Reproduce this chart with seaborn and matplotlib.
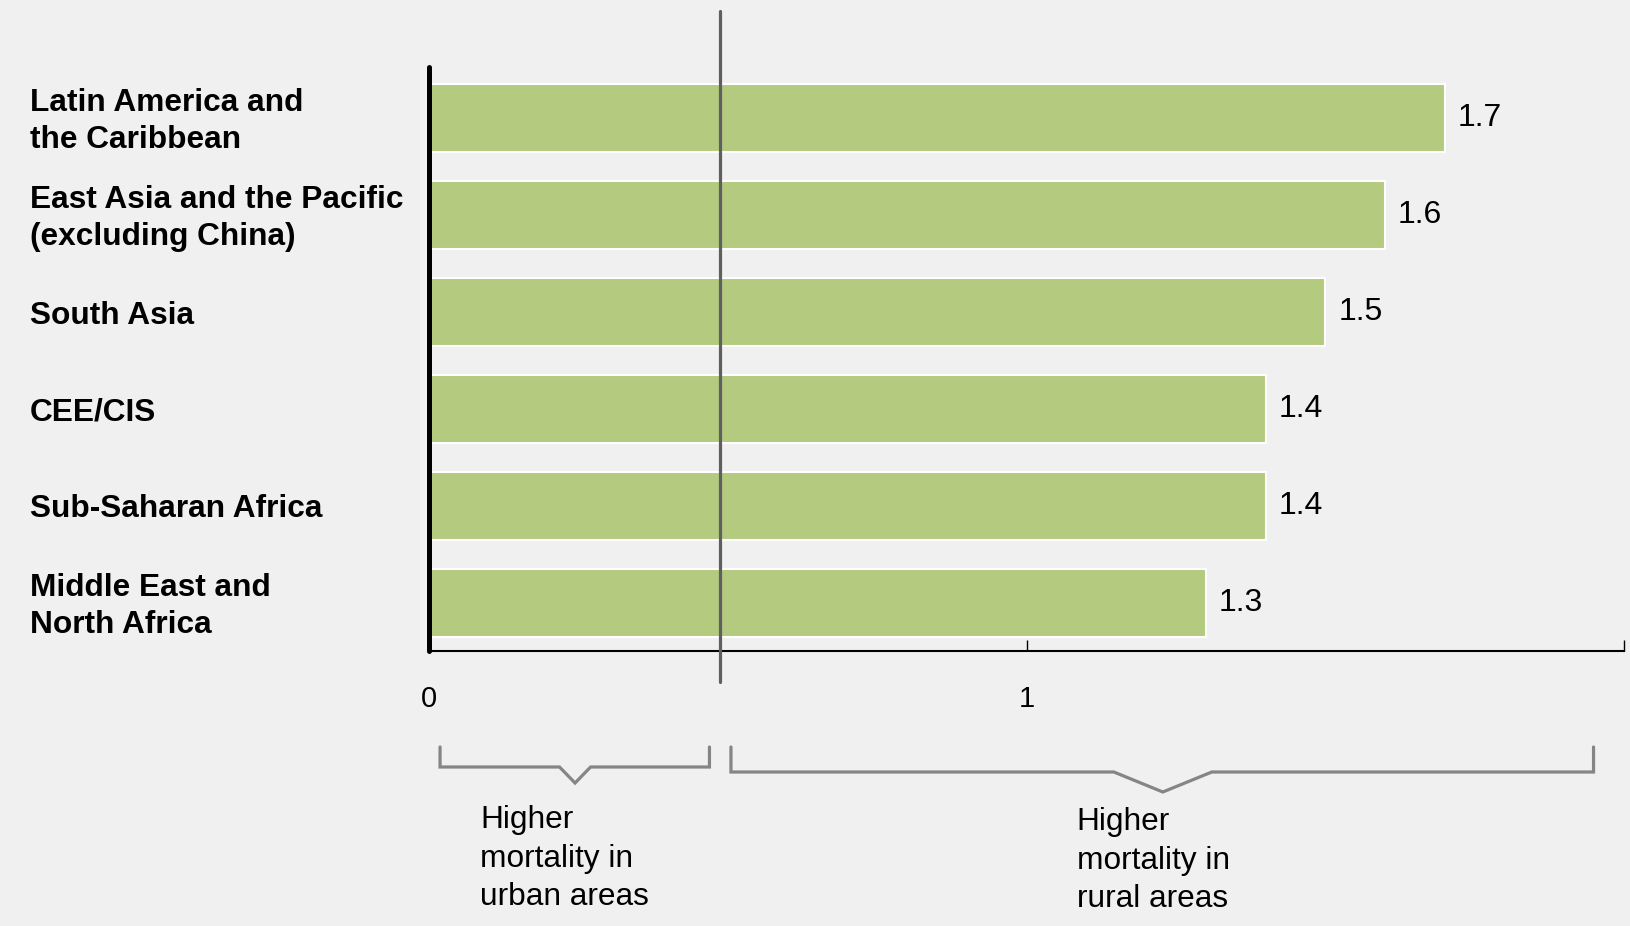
import matplotlib
matplotlib.use("Agg")
import matplotlib.pyplot as plt
import matplotlib.transforms as mtransforms
import seaborn as sns
import pandas as pd

# ---- data ----
regions = [
    "Latin America and\nthe Caribbean",
    "East Asia and the Pacific\n(excluding China)",
    "South Asia",
    "CEE/CIS",
    "Sub-Saharan Africa",
    "Middle East and\nNorth Africa",
]
ratios = [1.7, 1.6, 1.5, 1.4, 1.4, 1.3]
x_ticks = [0, 1, 2]
x_tick_labels = ["0", "1", ""]
divider_x = 0.486
urban_label = "Higher\nmortality in\nurban areas"
rural_label = "Higher\nmortality in\nrural areas"

df = pd.DataFrame({"region": regions, "ratio": ratios})

sns.set_style("white")
plt.rcParams["font.family"] = ["Liberation Sans", "DejaVu Sans"]

BG = "#f0f0f0"
BAR = "#b3ca7f"
W, H = 1630, 926

fig = plt.figure(figsize=(W / 100, H / 100), dpi=100, facecolor=BG)
ax = fig.add_axes([429.3 / W, (H - 651) / H, (1624 - 429.3) / W, (651 - 67) / H])
ax.set_facecolor(BG)

sns.barplot(data=df, x="ratio", y="region", orient="h", color=BAR, saturation=1,
            width=0.71, edgecolor="white", linewidth=1.5, ax=ax)

ax.set_xlim(0, 2)
ax.set_ylim(len(regions) - 0.505, -0.526)
ax.set_xlabel("")
ax.set_ylabel("")

# spines
for s in ["top", "right"]:
    ax.spines[s].set_visible(False)
ax.spines["left"].set_linewidth(3.6)
ax.spines["left"].set_color("black")
ax.spines["left"].set_capstyle("round")
ax.spines["bottom"].set_linewidth(1.5)
ax.spines["bottom"].set_color("black")

# x ticks
ax.set_xticks(x_ticks)
ax.set_xticklabels(x_tick_labels)
ax.tick_params(axis="x", bottom=True, direction="in", length=7.7, width=1,
               color="black", pad=24.5, labelsize=21, labelcolor="black")
ax.tick_params(axis="y", left=False, length=0, labelleft=False)

# category labels (left aligned at the figure edge, positioned on the category axis)
ylab_tr = mtransforms.blended_transform_factory(fig.transFigure, ax.transData)
for i, name in enumerate(regions):
    if "\n" in name:
        tr = mtransforms.offset_copy(ylab_tr, fig=fig, y=-3.6, units="dots")
        va = "center"
    else:
        tr = ylab_tr
        va = "center_baseline"
    ax.text(30 / W, i, name, transform=tr, ha="left", va=va, fontsize=22.8,
            fontweight="bold", linespacing=1.33, color="black",
            multialignment="left", clip_on=False)

# value labels
for c in ax.containers:
    ax.bar_label(c, labels=[f"{v:.1f}" for v in ratios], padding=9.4, fontsize=23,
                 color="black")

# divider line
blend = mtransforms.blended_transform_factory(ax.transData, fig.transFigure)
ax.plot([divider_x, divider_x], [(H - 11) / H, (H - 682) / H], transform=blend,
        color="#5f5f5f", lw=2.3, clip_on=False, zorder=4)

# brackets
def fy(p):
    return (H - p) / H

def bracket(x0, x1, xc, half, ytop, yh, ytip):
    xs = [x0, x0, xc - half, xc, xc + half, x1, x1]
    ys = [fy(ytop), fy(yh), fy(yh), fy(ytip), fy(yh), fy(yh), fy(ytop)]
    ax.plot(xs, ys, transform=blend, color="#858585", lw=2.3, clip_on=False,
            solid_joinstyle="miter", zorder=4)

bracket(0.018, 0.469, 0.244, 0.026, 747, 767, 783)
bracket(0.505, 1.949, 1.228, 0.082, 747, 772, 792)

ax.text(0.085, fy(805), urban_label, transform=blend, ha="left", va="top",
        fontsize=22.8, linespacing=1.37, color="black")
ax.text(1.084, fy(807), rural_label, transform=blend, ha="left", va="top",
        fontsize=22.8, linespacing=1.37, color="black")

fig.savefig("out.png", dpi=100, facecolor=BG)
